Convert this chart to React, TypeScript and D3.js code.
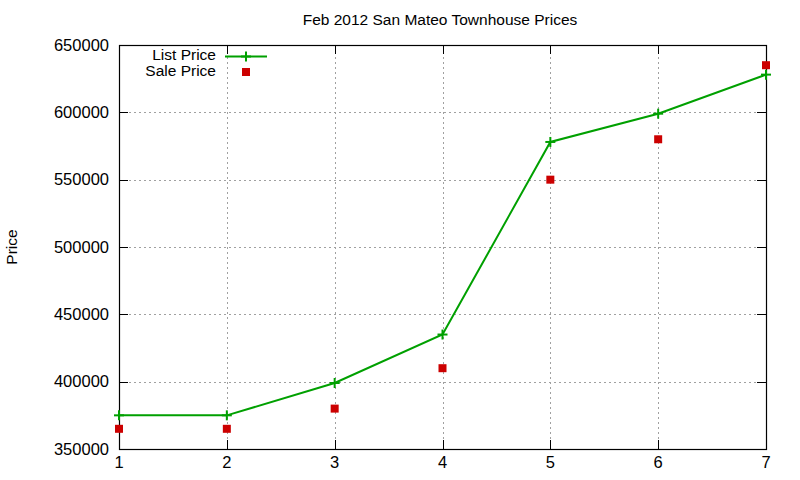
import React from 'react';
import * as d3 from 'd3';

const months = [1, 2, 3, 4, 5, 6, 7];
const listPrice = [375000, 375000, 399000, 435000, 578000, 599000, 628000];
const salePrice = [365000, 365000, 380000, 410000, 550000, 580000, 635000];
const yTicks = [350000, 400000, 450000, 500000, 550000, 600000, 650000];

const width = 800;
const height = 480;
const margin = { top: 45, right: 34, bottom: 31, left: 119 };
const font = '"Liberation Sans", Arial, sans-serif';
const green = '#00a000';
const red = '#cc0000';

const App: React.FC = () => {
  const x = d3
    .scaleLinear()
    .domain([1, 7])
    .range([margin.left, width - margin.right]);
  const y = d3
    .scaleLinear()
    .domain([350000, 650000])
    .range([height - margin.bottom, margin.top]);

  const line = d3
    .line<number>()
    .x((_, i) => x(months[i]))
    .y((d) => y(d));

  const x0 = margin.left;
  const x1 = width - margin.right;
  const y0 = height - margin.bottom;
  const y1 = margin.top;

  const plus = (cx: number, cy: number, key: string) => (
    <g key={key} stroke={green} strokeWidth={2}>
      <line x1={cx - 5} x2={cx + 5} y1={cy} y2={cy} />
      <line x1={cx} x2={cx} y1={cy - 5} y2={cy + 5} />
    </g>
  );

  return (
    <svg
      width={width}
      height={height}
      style={{ position: 'absolute', left: 0, top: 0, background: '#fff' }}
      fontFamily={font}
    >
      {/* grid */}
      <g stroke="#a0a0a0" strokeWidth={1} strokeDasharray="2,3">
        {yTicks.slice(1, -1).map((t) => (
          <line key={'gy' + t} x1={x0} x2={x1} y1={Math.round(y(t)) + 0.5} y2={Math.round(y(t)) + 0.5} />
        ))}
        {months.slice(1, -1).map((m) => (
          <line key={'gx' + m} x1={Math.round(x(m)) + 0.5} x2={Math.round(x(m)) + 0.5} y1={y0} y2={y1} />
        ))}
      </g>

      {/* border and ticks */}
      <rect x={x0 + 0.5} y={y1 + 0.5} width={x1 - x0} height={y0 - y1} fill="none" stroke="#000" strokeWidth={1.2} />
      <g stroke="#000" strokeWidth={1}>
        {yTicks.map((t) => (
          <g key={'ty' + t}>
            <line x1={x0} x2={x0 + 9} y1={Math.round(y(t)) + 0.5} y2={Math.round(y(t)) + 0.5} />
            <line x1={x1 - 9} x2={x1} y1={Math.round(y(t)) + 0.5} y2={Math.round(y(t)) + 0.5} />
          </g>
        ))}
        {months.map((m) => (
          <g key={'tx' + m}>
            <line x1={Math.round(x(m)) + 0.5} x2={Math.round(x(m)) + 0.5} y1={y0} y2={y0 - 9} />
            <line x1={Math.round(x(m)) + 0.5} x2={Math.round(x(m)) + 0.5} y1={y1} y2={y1 + 9} />
          </g>
        ))}
      </g>

      {/* tick labels */}
      <g fontSize={16.5} fill="#000">
        {yTicks.map((t) => (
          <text key={'ly' + t} x={x0 - 10} y={y(t)} dy="0.35em" textAnchor="end">
            {t}
          </text>
        ))}
        {months.map((m) => (
          <text key={'lx' + m} x={x(m)} y={y0 + 19} textAnchor="middle">
            {m}
          </text>
        ))}
      </g>

      {/* titles */}
      <text x={440} y={25} fontSize={15.5} textAnchor="middle">
        Feb 2012 San Mateo Townhouse Prices
      </text>
      <text transform={`translate(17,${(y0 + y1) / 2}) rotate(-90)`} fontSize={15.5} textAnchor="middle">
        Price
      </text>

      {/* list price */}
      <path d={line(listPrice) || ''} fill="none" stroke={green} strokeWidth={2} />
      {listPrice.map((v, i) => plus(x(months[i]), y(v), 'lp' + i))}

      {/* sale price */}
      {salePrice.map((v, i) => (
        <rect key={'sp' + i} x={x(months[i]) - 4} y={y(v) - 4} width={8} height={8} fill={red} />
      ))}

      {/* legend */}
      <g fontSize={15.5}>
        <text x={216} y={55} dy="0.35em" textAnchor="end">
          List Price
        </text>
        <line x1={225} x2={267} y1={56.5} y2={56.5} stroke={green} strokeWidth={2} />
        {plus(246, 56.5, 'legplus')}
        <text x={216} y={71} dy="0.35em" textAnchor="end">
          Sale Price
        </text>
        <rect x={242} y={68} width={8} height={8} fill={red} />
      </g>
    </svg>
  );
};

export default App;
